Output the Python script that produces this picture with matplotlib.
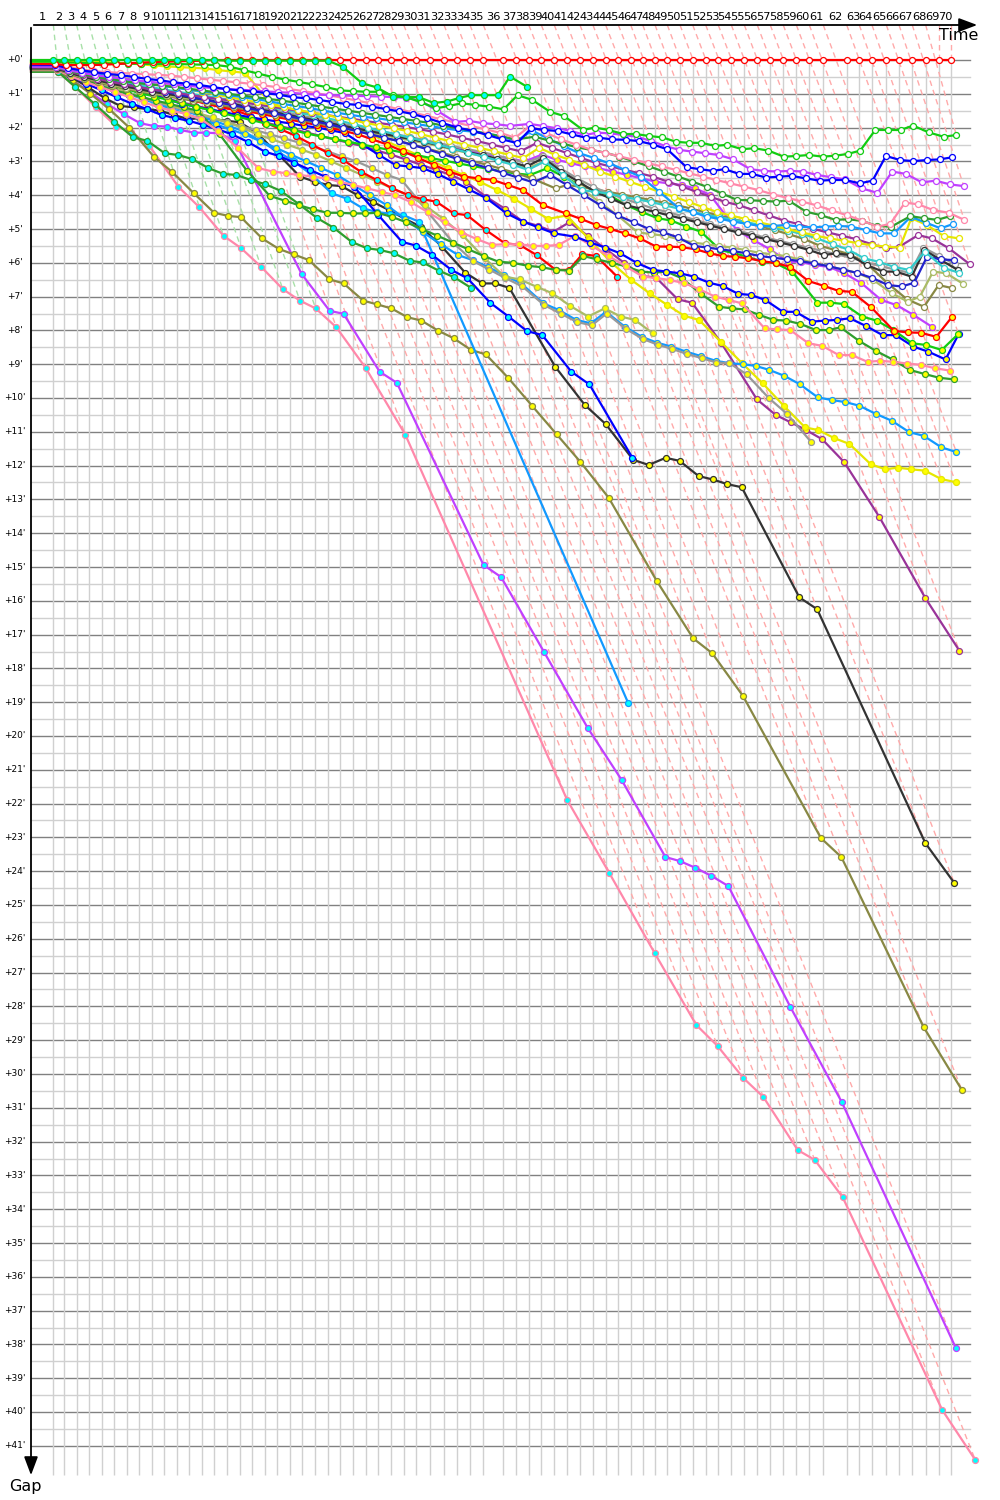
import matplotlib
matplotlib.use("Agg")
import matplotlib.pyplot as plt

# leader's elapsed time at the end of each lap, minutes
lead_time = [1.62, 2.41, 3.31, 4.22, 5.12, 6.04, 6.93, 7.85, 8.75, 9.66,
             10.56, 11.47, 12.37, 13.28, 14.22, 15.14, 16.04, 16.96, 17.85, 18.77,
             19.66, 20.58, 21.50, 22.39, 23.31, 24.25, 25.17, 26.09, 27.01, 27.92,
             28.91, 29.93, 30.87, 31.81, 32.78, 34.22, 35.14, 36.07, 36.98, 37.92,
             38.86, 39.78, 40.72, 41.64, 42.56, 43.46, 44.33, 45.22, 46.11, 47.03,
             47.95, 48.89, 49.80, 50.75, 51.69, 52.63, 53.57, 54.51, 55.46, 56.40,
             57.41, 59.11, 60.02, 60.94, 61.98, 62.90, 63.86, 64.83, 65.78, 66.69]
lap_labels = [str(i) for i in range(1, 71)]
gap_ticks = list(range(0, 42))

# gap to the leader after each lap, minutes (one list per car)
gap_red_w = [0.12, 0.15, 0.15, 0.15, 0.14, 0.12, 0.1, 0.08, 0.06, 0.05, 0.04, 0.03, 0.02] + [0.0] * 57
gap_green_c = [0.0] * 14 + [0.02] * 9 + [0.2, 0.69, 0.81, 1.09, 1.09, 1.1, 1.27, 1.23, 1.12, 1.04,
                                         1.04, 1.04, 0.49, 0.79]
gap_green_w = [0.05, 0.07, 0.08, 0.09, 0.1, 0.1, 0.11, 0.11, 0.12, 0.12, 0.12, 0.13, 0.14, 0.15,
               0.2, 0.3, 0.4, 0.5, 0.58, 0.65, 0.72, 0.8, 0.9,
               0.92, 0.94, 0.94, 1.04, 1.1, 1.25, 1.43, 1.36, 1.28, 1.33, 1.38, 1.46,
               1.04, 1.18, 1.53, 1.66, 2.07, 2.0, 2.07, 2.19, 2.19, 2.25, 2.29, 2.42, 2.45, 2.45, 2.54,
               2.51, 2.64, 2.61, 2.68, 2.86, 2.84, 2.81, 2.86, 2.83, 2.78, 2.68,
               2.07, 2.07, 2.07, 1.94, 2.14, 2.27, 2.22]
gap_blue_w = [0.15, 0.24, 0.3, 0.36, 0.41, 0.45, 0.5, 0.56, 0.6, 0.66, 0.7, 0.74, 0.8, 0.86, 0.9,
              0.93, 0.98, 1.03, 1.1, 1.13, 1.18, 1.24, 1.3, 1.33, 1.38, 1.45, 1.52, 1.6, 1.72, 1.86,
              2.0, 2.1, 2.22, 2.35, 2.46,
              2.02, 2.07, 2.1, 2.2, 2.3, 2.3, 2.35, 2.36, 2.4, 2.5, 2.64,
              3.17, 3.23, 3.28, 3.23, 3.37, 3.37, 3.48, 3.45, 3.43, 3.5, 3.57, 3.55, 3.55, 3.65, 3.57,
              2.84, 2.96, 2.99, 2.96, 2.94, 2.88]
gap_violet_w = [0.2, 0.3, 0.38, 0.45, 0.5, 0.55, 0.6, 0.64, 0.68, 0.72, 0.76, 0.8, 0.83, 0.86, 0.88,
                0.9, 0.93, 0.95, 0.97, 1.0, 1.02, 1.04, 1.05, 1.06, 1.07, 1.08, 1.1, 1.12, 1.2, 1.5,
                1.83, 1.8, 1.87, 1.9, 1.95, 1.89, 1.95, 2.02, 2.09, 2.22, 2.15, 2.17, 2.22, 2.27, 2.4, 2.55,
                2.66, 2.71, 2.76, 2.81, 2.94, 3.23, 3.28, 3.3, 3.28, 3.3, 3.4, 3.47, 3.53, 3.8, 3.93,
                3.3, 3.37, 3.62, 3.57, 3.68, 3.73]
gap_pink_w = [0.15, 0.22, 0.28, 0.33, 0.36, 0.38, 0.4, 0.42, 0.44, 0.46, 0.5, 0.54, 0.58, 0.62, 0.66,
              0.7, 0.75, 0.8, 0.86, 0.92, 0.98, 1.05, 1.12, 1.2, 1.28, 1.36, 1.45, 1.55, 1.65, 1.75,
              1.85, 1.95, 2.05, 2.15, 2.3,
              1.95, 2.15, 2.35, 2.5, 2.65, 2.75, 2.85, 2.95, 3.05, 3.15, 3.25, 3.35, 3.45, 3.55, 3.65,
              3.75, 3.85, 3.98, 4.08, 4.19, 4.3, 4.45, 4.59, 4.75, 4.93, 4.85,
              4.22, 4.27, 4.44, 4.52, 4.73]
gap_dkgreen_w = [0.2, 0.32, 0.42, 0.5, 0.56, 0.62, 0.68, 0.72, 0.76, 0.8, 0.85, 0.9, 0.95, 1.0, 1.05,
                 1.1, 1.15, 1.2, 1.26, 1.32, 1.38, 1.44, 1.5, 1.56, 1.62, 1.68, 1.74, 1.8, 1.86, 1.94,
                 2.02, 2.1, 2.18, 2.26, 2.35,
                 2.27, 2.38, 2.48, 2.58, 2.66, 2.74, 2.86, 3.0, 3.15, 3.3, 3.45, 3.6, 3.75, 3.95, 4.14,
                 4.15, 4.17, 4.19, 4.16, 4.49, 4.59, 4.73, 4.71, 4.76, 4.91, 4.93,
                 4.62, 4.68, 4.73, 4.62]
gap_dodger_w = [0.18, 0.28, 0.36, 0.42, 0.48, 0.55, 0.62, 0.7, 0.76, 0.82, 0.88, 0.93, 0.98, 1.04, 1.1,
                1.16, 1.22, 1.3, 1.36, 1.42, 1.5, 1.56, 1.62, 1.68, 1.72, 1.78, 1.84, 1.9, 1.96, 2.02,
                2.08, 2.12, 2.18, 2.25, 2.4,
                2.09, 2.32, 2.55, 2.76, 2.9, 3.06, 3.25, 3.45, 3.9, 4.39, 4.5, 4.64, 4.7, 4.78, 4.85,
                4.91, 4.91, 4.88, 4.93, 4.95, 4.93, 4.91, 4.93, 5.03, 5.13, 5.13,
                4.64, 4.81, 4.98, 4.85]
gap_yellow_w = [0.1, 0.2, 0.28, 0.36, 0.44, 0.52, 0.6, 0.66, 0.72, 0.8, 0.88, 0.95, 1.02, 1.1, 1.18,
                1.25, 1.32, 1.4, 1.48, 1.55, 1.62, 1.7, 1.78, 1.86, 1.94, 2.02, 2.1, 2.2, 2.3, 2.4,
                2.5, 2.6, 2.7, 2.8, 2.9,
                2.6, 2.8, 2.95, 3.1, 3.3, 3.45, 3.6, 3.75, 3.9, 4.05, 4.2, 4.35, 4.5, 4.6, 4.7,
                4.8, 4.9, 5.0, 5.1, 5.2, 5.28, 5.35, 5.42, 5.48, 5.52, 5.55,
                4.68, 4.88, 5.21, 5.28]
gap_purple_w = [0.22, 0.34, 0.45, 0.55, 0.64, 0.72, 0.8, 0.86, 0.92, 0.98, 1.04, 1.1, 1.15, 1.2, 1.26,
                1.32, 1.38, 1.44, 1.5, 1.56, 1.62, 1.68, 1.74, 1.8, 1.86, 1.92, 1.98, 2.05, 2.12, 2.2,
                2.3, 2.4, 2.5, 2.6, 2.7,
                2.45, 2.6, 2.75, 2.9, 3.05, 3.15, 3.25, 3.35, 3.45, 3.6, 3.75, 3.9, 4.05, 4.2, 4.3,
                4.45, 4.6, 4.75, 4.85, 5.0, 5.1, 5.2, 5.3, 5.45, 5.57, 5.52,
                5.18, 5.28, 5.57, 6.04]
gap_teal_w = [0.2, 0.3, 0.4, 0.48, 0.56, 0.64, 0.72, 0.8, 0.87, 0.94, 1.0, 1.06, 1.12, 1.18, 1.25,
              1.32, 1.4, 1.48, 1.56, 1.64, 1.72, 1.8, 1.9, 2.0, 2.1, 2.2, 2.3, 2.4, 2.5, 2.62,
              2.74, 2.86, 2.98, 3.1, 3.25,
              3.0, 3.4, 3.85, 3.9, 3.95, 4.05, 4.12, 4.2, 4.3, 4.4, 4.5, 4.58, 4.65, 4.72, 4.8,
              4.88, 4.96, 5.05, 5.15, 5.28, 5.45, 5.6, 5.87, 5.97, 6.12, 6.21,
              5.67, 6.16, 6.29]
gap_black_w = [0.25, 0.38, 0.5, 0.6, 0.7, 0.78, 0.86, 0.94, 1.0, 1.06, 1.12, 1.18, 1.24, 1.3, 1.38,
               1.46, 1.54, 1.62, 1.7, 1.78, 1.86, 1.94, 2.02, 2.1, 2.18, 2.26, 2.34, 2.42, 2.52, 2.62,
               2.72, 2.82, 2.92, 3.02, 3.15,
               2.9, 3.3, 3.6, 3.9, 4.1, 4.3, 4.4, 4.49, 4.6, 4.7, 4.8, 4.9, 5.0, 5.1, 5.2,
               5.3, 5.4, 5.5, 5.62, 5.77, 5.72, 5.77, 6.07, 6.26, 6.26, 6.41,
               5.62, 5.92, 6.21]
gap_grey_w = [0.22, 0.35, 0.46, 0.56, 0.65, 0.73, 0.8, 0.88, 0.95, 1.02, 1.08, 1.14, 1.2, 1.27, 1.34,
              1.41, 1.48, 1.56, 1.64, 1.72, 1.8, 1.88, 1.96, 2.04, 2.12, 2.2, 2.28, 2.36, 2.45, 2.54,
              2.63, 2.72, 2.82, 2.92, 3.05,
              2.85, 3.2, 3.5, 3.75, 3.95, 4.1, 4.25, 4.4, 4.5, 4.62, 4.74, 4.85, 4.95, 5.05, 5.15,
              5.25, 5.35, 5.45, 5.55, 5.65, 5.75, 5.85, 5.98, 6.1, 6.2, 6.3,
              5.55, 5.8, 6.05]
gap_khaki_w = [0.25, 0.4, 0.52, 0.63, 0.73, 0.82, 0.9, 0.97, 1.04, 1.1, 1.16, 1.22, 1.28, 1.35, 1.42,
               1.5, 1.58, 1.66, 1.74, 1.82, 1.9, 1.98, 2.06, 2.14, 2.22, 2.3, 2.38, 2.46, 2.55, 2.65,
               2.75, 2.85, 2.95, 3.05, 3.2,
               3.0, 3.4, 3.8, 4.2, 4.6, 5.1, 5.15, 5.2, 5.3, 5.4, 5.45, 5.5, 5.55, 5.62, 5.7,
               5.75, 5.8, 5.9, 6.0, 6.1, 6.2, 6.3, 6.5, 6.9, 7.15, 7.0,
               6.26, 6.31, 6.63]
gap_olive_w = [0.28, 0.42, 0.55, 0.66, 0.76, 0.85, 0.93, 1.0, 1.07, 1.14, 1.2, 1.26, 1.33, 1.4, 1.47,
               1.54, 1.62, 1.7, 1.78, 1.86, 1.94, 2.02, 2.1, 2.2, 2.3, 2.4, 2.5, 2.62, 2.74, 2.86,
               2.98, 3.1, 3.22, 3.35, 3.5,
               3.8, 3.7, 3.75, 3.82, 3.9, 3.98, 4.06, 4.14, 4.22, 4.3, 4.4, 4.5, 4.6, 4.7, 4.8,
               4.92, 5.04, 5.16, 5.3, 5.5, 5.62, 5.75, 6.0, 6.6, 7.08, 7.3,
               6.66, 6.75]
gap_navy_w = [0.18, 0.3, 0.4, 0.5, 0.6, 0.7, 0.78, 0.86, 0.94, 1.02, 1.1, 1.18, 1.26, 1.34, 1.42,
              1.5, 1.58, 1.66, 1.74, 1.82, 1.9, 2.0, 2.1, 2.2, 2.3, 2.4, 2.52, 2.64, 2.78, 2.92,
              3.06, 3.2, 3.34, 3.48, 3.62,
              3.4, 3.7, 4.0, 4.3, 4.6, 4.8, 5.0, 5.1, 5.25, 5.5, 5.55, 5.6, 5.65, 5.72, 5.8,
              5.85, 5.9, 5.95, 6.02, 6.1, 6.2, 6.3, 6.45, 6.66, 6.7, 6.59,
              5.82, 5.9, 5.92]
gap_red_y = [0.2, 0.3, 0.42, 0.52, 0.62, 0.72, 0.82, 0.92, 1.02, 1.1, 1.2, 1.28, 1.36, 1.44, 1.52,
             1.6, 1.68, 1.76, 1.84, 1.92, 2.0, 2.1, 2.2, 2.35, 2.5, 2.7, 2.9, 3.1, 3.3,
             3.45, 3.5, 3.55, 3.7, 3.85, 4.29, 4.54, 4.7, 4.88, 5.0, 5.13,
             5.28, 5.52, 5.52, 5.54, 5.6, 5.72, 5.8, 5.82, 5.87, 5.95, 6.01, 6.12, 6.54, 6.68, 6.83,
             6.86, 7.32, 8.01, 8.06, 8.07, 8.19, 7.61]
gap_violet_y = [0.15, 0.25, 0.35, 0.45, 0.55, 0.65, 0.75, 0.84, 0.92, 1.0, 1.08, 1.16, 1.24, 1.32, 1.4,
                1.48, 1.56, 1.64, 1.72, 1.8, 1.88, 1.96, 2.04, 2.12, 2.2, 2.28, 2.36, 2.44, 2.52, 2.6,
                2.68, 2.76, 2.84, 2.92, 3.0,
                2.8, 2.95, 3.05, 3.15, 3.2, 3.3, 3.4, 3.5, 3.6, 3.65, 3.7, 3.8,
                3.99, 5.03, 5.33, 5.6, 5.97, 5.97, 6.07, 6.12, 6.31, 6.6, 7.1, 7.25, 7.54, 7.9]
gap_green_y = [0.22, 0.36, 0.5, 0.62, 0.74, 0.86, 0.98, 1.08, 1.18, 1.28, 1.38, 1.48, 1.58, 1.68, 1.78,
               1.88, 1.98, 2.08, 2.18, 2.26, 2.34, 2.42, 2.5, 2.58, 2.66, 2.74, 2.82, 2.9, 2.98, 3.06,
               3.14, 3.22, 3.3, 3.36, 3.4,
               3.2, 3.45, 3.7, 3.85, 4.0, 4.3, 4.5,
               4.68, 4.75, 4.93, 5.08, 5.62, 5.72, 5.82, 5.97, 6.01, 6.26, 7.18, 7.18, 7.22, 7.59,
               7.71, 7.99, 8.38, 8.43, 8.58, 8.1]
gap_blue_y = [0.2, 0.33, 0.45, 0.57, 0.7, 0.82, 0.94, 1.05, 1.16, 1.3, 1.38, 1.46, 1.54, 1.62, 1.7,
              1.76, 1.82, 1.88, 1.95, 2.0, 2.08, 2.16, 2.5, 2.8,
              3.11, 3.15, 3.2, 3.37, 3.6, 3.83, 4.09, 4.54, 4.78, 4.95, 5.13, 5.23, 5.4, 5.55, 5.72,
              6.01, 6.21, 6.26, 6.31, 6.41, 6.59, 6.69, 6.92, 6.95, 7.1, 7.45, 7.45, 7.74, 7.71, 7.69,
              7.64, 7.87, 8.14, 8.14, 8.48, 8.63, 8.86, 8.11]
gap_pink_y = [0.3, 0.48, 0.65, 0.8, 0.95, 1.1, 1.25, 1.4, 1.5, 1.6, 1.75, 2.1, 2.6, 3.2,
              3.3, 3.35, 3.4, 3.45, 3.5, 3.6, 3.7, 3.8, 3.9, 4.0, 4.2, 4.5, 4.8, 5.1, 5.3,
              5.47, 5.45, 5.45, 5.5, 5.5, 5.47, 5.2, 5.5, 5.8, 6.1, 6.41, 6.45, 6.51, 6.6,
              6.78, 7.0, 7.1, 7.2, 7.94, 7.97, 7.99, 8.38, 8.46, 8.73, 8.73, 8.93, 8.9, 8.93, 8.98,
              9.02, 9.12, 9.19]
gap_dkgreen_y = [0.25, 0.4, 0.6, 0.75, 0.9, 1.0, 1.1, 1.2, 1.3, 1.4, 1.5, 2.2, 3.27, 4.02,
                 4.16, 4.3, 4.42, 4.52, 4.52, 4.54, 4.54, 4.52, 4.64, 4.8, 5.0, 5.2, 5.4, 5.6, 5.8,
                 5.97, 6.0, 6.09, 6.13, 6.21, 6.23, 5.8, 5.9, 6.0, 6.1, 6.26,
                 6.29, 6.26, 6.46, 6.92, 7.3, 7.35, 7.38, 7.54, 7.69, 7.71, 7.81, 7.99, 7.99, 7.91,
                 8.31, 8.61, 8.86, 9.17, 9.29, 9.4, 9.45]
gap_dodger_y = [0.25, 0.4, 0.55, 0.7, 0.85, 1.0, 1.15, 1.3, 1.45, 1.6, 1.75, 1.9, 2.05, 2.2, 2.4,
                2.6, 2.8, 3.0, 3.2, 3.4, 3.7, 4.0, 4.3, 4.7, 5.1, 5.45,
                5.77, 5.92, 6.13, 6.36, 6.61, 7.2, 7.4, 7.69, 7.79, 7.45, 7.89, 8.19, 8.36, 8.48,
                8.63, 8.76, 8.9, 8.97, 9.0, 9.05, 9.17, 9.34, 9.59, 9.98, 10.06, 10.12, 10.23,
                10.47, 10.67, 11.01, 11.12, 11.46, 11.6]
gap_grey_y = [0.25, 0.4, 0.55, 0.7, 0.85, 1.0, 1.12, 1.24, 1.36, 1.48, 1.6, 1.72, 1.84, 1.96, 2.08,
              2.2, 2.32, 2.44, 2.56, 2.7, 2.85, 3.0, 3.2, 3.4,
              3.55, 4.49, 5.4, 5.95, 6.2, 6.45, 6.7, 7.25, 7.5, 7.75, 7.85, 7.5, 7.95, 8.25, 8.42,
              8.55, 8.7, 8.82, 8.95, 8.97, 9.3, 10.0, 10.48, 11.29]
gap_khaki_y = [0.2, 0.35, 0.5, 0.65, 0.8, 0.95, 1.1, 1.22, 1.34, 1.46, 1.58, 1.7, 1.85, 2.0, 2.2,
               2.35, 2.5, 2.65, 2.8, 3.0, 3.2, 3.4, 3.6, 3.8, 4.0, 4.3, 4.7,
               5.18, 5.87, 6.41, 6.49, 6.71, 6.9, 7.28, 7.59, 7.35, 7.59, 7.69, 8.09]
gap_red_c = [0.2, 0.32, 0.42, 0.52, 0.62, 0.72, 0.82, 0.92, 1.02, 1.1, 1.2, 1.3, 1.4, 1.48, 1.65,
             1.85, 2.05, 2.25, 2.5, 2.75, 2.96, 3.3, 3.55, 3.8,
             3.99, 4.12, 4.19, 4.54, 4.59, 5.03, 5.42, 5.47, 5.77, 6.21, 6.21, 5.74, 5.8, 6.41]
gap_blue_c = [0.25, 0.45, 0.7, 0.9, 1.1, 1.3, 1.45, 1.63, 1.72, 1.8, 1.92, 2.05, 2.2, 2.42,
              2.71, 2.84, 3.04, 3.25, 3.45, 3.6,
              3.75, 4.59, 5.38, 5.49, 5.77, 6.21, 6.46, 7.18, 7.59, 8.02, 8.14, 9.22, 9.6, 11.77]
gap_dodger_c = [0.25, 0.38, 0.5, 0.65, 0.8, 0.95, 1.1, 1.24, 1.38, 1.5, 1.65, 1.8, 1.95, 2.1, 2.4,
                2.7, 3.0, 3.4, 3.94, 4.1, 4.39, 4.5, 4.55, 4.59, 4.78, 19.02]
gap_dkgreen_c = [0.35, 0.8, 1.3, 1.83, 2.29, 2.39, 2.76, 2.81, 2.93, 3.2, 3.37, 3.4, 3.55, 3.67, 3.87,
                 4.26, 4.67, 4.96, 5.38, 5.57, 5.62, 5.72, 5.94, 5.99, 6.23, 6.43, 6.75]
gap_black_y = [0.25, 0.5, 0.8, 1.13, 1.36, 1.4, 1.45, 1.5, 1.63, 1.75, 1.72, 1.75, 1.8, 1.84, 2.16,
               2.8, 3.45, 3.6, 3.7, 3.73, 4.0, 4.2, 4.44, 4.7, 4.93, 5.52, 6.29, 6.61, 6.61, 6.74,
               9.07, 10.21, 10.77, 11.83, 11.98, 11.77, 11.86, 12.31, 12.41, 12.55, 12.64, 15.9,
               16.25, 23.17, 24.35]
gap_olive_y = [0.3, 0.6, 1.0, 1.45, 2.0, 2.86, 3.32, 3.94, 4.52, 4.61, 4.65, 5.28, 5.59, 5.75, 5.92,
               6.49, 6.61, 7.12, 7.23, 7.35, 7.61, 7.71, 8.01, 8.23, 8.58, 8.71, 9.4, 10.24, 11.07,
               11.89, 12.95, 15.41, 17.11, 17.55, 18.82, 23.02, 23.58, 28.61, 30.47]
gap_purple_y = [0.22, 0.35, 0.48, 0.6, 0.72, 0.84, 0.95, 1.05, 1.15, 1.25, 1.35, 1.45, 1.55, 1.65,
                1.75, 1.85, 1.95, 2.05, 2.15, 2.25, 2.35, 2.45, 2.55, 2.68, 2.8, 2.95, 3.1, 3.25, 3.4,
                3.6, 4.04, 4.4, 4.78, 4.9, 5.08, 4.8, 5.2, 5.6, 6.0,
                6.39, 6.44, 7.08, 7.18, 8.36, 10.04, 10.5, 10.72, 10.95, 11.22, 11.9, 13.51, 15.92,
                17.48]
gap_yellow_y = [0.05, 0.07, 0.06, 0.05, 0.06, 0.08, 0.1, 0.13, 0.16, 0.19, 0.21, 0.23, 0.25, 0.3,
                0.34, 0.38, 1.27, 1.4, 1.5, 1.6, 1.75, 1.9, 2.05, 2.2, 2.4, 2.6, 2.8, 3.0, 3.2, 3.4,
                3.6, 3.85, 4.1, 4.4, 4.7, 4.6, 5.3, 6.0,
                6.5, 6.9, 7.25, 7.57, 7.69, 8.33, 8.97, 9.57, 10.24, 10.87, 10.95, 11.19, 11.36,
                11.96, 12.11, 12.06, 12.11, 12.15, 12.4, 12.49]
gap_violet_c = [0.3, 0.6, 0.95, 1.3, 1.6, 1.87, 1.95, 1.97, 2.07, 2.15, 2.15, 2.17, 2.39,
                6.33, 7.42, 7.51, 9.22, 9.55, 14.94, 15.3, 17.51, 19.76, 21.3, 23.58, 23.7, 23.9,
                24.14, 24.44, 28.02, 30.83, 38.1]
gap_pink_c = [0.35, 0.8, 1.4, 1.97, 2.12, 2.54, 3.75, 4.36, 5.2, 5.57, 6.12, 6.78, 7.12, 7.35, 7.91,
              9.11, 11.09, 21.89, 24.05, 26.42, 28.55, 29.17, 30.12, 30.68, 32.25, 32.54, 33.64,
              39.94, 41.42]

RED, GREEN, BLUE, VIOLET = "#ff0000", "#11cc11", "#0000ff", "#c040ff"
PINK, DKGREEN, DODGER, YELLOW = "#ff88aa", "#2e9e2e", "#1199ff", "#e6e600"
PURPLE, TEAL, BLACK, GREY = "#993399", "#33cccc", "#333333", "#999999"
KHAKI, OLIVE, NAVY = "#aabb66", "#888844", "#2222cc"
W, Y, C = "#ffffff", "#ffff00", "#00ffff"

# drawn in this order, last one on top
cars = [
    (gap_pink_c, PINK, C), (gap_violet_c, VIOLET, C), (gap_olive_y, OLIVE, Y),
    (gap_black_y, BLACK, Y), (gap_purple_y, PURPLE, Y), (gap_dodger_c, DODGER, C),
    (gap_yellow_y, YELLOW, Y), (gap_dodger_y, DODGER, Y), (gap_grey_y, GREY, Y),
    (gap_blue_c, BLUE, C), (gap_dkgreen_c, DKGREEN, C), (gap_khaki_y, KHAKI, Y),
    (gap_red_c, RED, C), (gap_dkgreen_y, DKGREEN, Y), (gap_pink_y, PINK, Y),
    (gap_blue_y, BLUE, Y), (gap_green_y, GREEN, Y), (gap_violet_y, VIOLET, Y),
    (gap_red_y, RED, Y), (gap_olive_w, OLIVE, W), (gap_khaki_w, KHAKI, W),
    (gap_grey_w, GREY, W), (gap_black_w, BLACK, W), (gap_navy_w, NAVY, W),
    (gap_teal_w, TEAL, W), (gap_purple_w, PURPLE, W), (gap_yellow_w, YELLOW, W),
    (gap_dodger_w, DODGER, W), (gap_dkgreen_w, DKGREEN, W), (gap_pink_w, PINK, W),
    (gap_violet_w, VIOLET, W), (gap_blue_w, BLUE, W), (gap_green_w, GREEN, W),
    (gap_red_w, RED, W), (gap_green_c, GREEN, C),
]

# pixel layout of the 1000x1500 canvas
SX, SY = 13.8, 33.8          # px per minute on time / gap axis
X0, Y0 = 31, 60              # px of time 0 and gap 0


def gx(px):
    return (px - X0) / SX


def gy(py):
    return (py - Y0) / SY


fig = plt.figure(figsize=(10, 15), dpi=100)
ax = fig.add_axes([0, 0, 1, 1])
ax.set_xlim(gx(0), gx(1000))
ax.set_ylim(gy(1500), gy(0))
ax.axis("off")

top, bottom, right = gy(25), gy(1475), gx(970)

# grid
for m in range(0, 42):
    ax.plot([0, right], [m, m], color="#808080", lw=1.0, zorder=1)
    if m < 41:
        ax.plot([0, right], [m + 0.5, m + 0.5], color="#d0d0d0", lw=1.0, zorder=1)
ax.vlines(lead_time, 0, bottom, color="#d0d0d0", lw=1.0, zorder=1)

# lap lines: from the top through every car on that lap
for k, t in enumerate(lead_time):
    on_lap = [g[k] for g, _, _ in cars if len(g) > k]
    gmax = max(on_lap)
    col = "#a8e0a8" if k < 14 else "#ffaaaa"
    ax.plot([t, t + gmax], [top, gmax], color=col, lw=1.0, ls=(0, (4, 3)), zorder=2)

# cars
for z, (gaps, col, fill) in enumerate(cars):
    xs = [lead_time[i] + g for i, g in enumerate(gaps)]
    ax.plot([0] + xs, [gaps[0]] + gaps, color=col, lw=1.6, zorder=3 + z * 0.01,
            solid_joinstyle="round")
    ax.plot(xs, gaps, ls="none", marker="o", ms=4.3, mfc=fill, mec=col, mew=0.9,
            zorder=3 + z * 0.01 + 0.005)

# axes with arrows
ax.annotate("", xy=(gx(980), top), xytext=(0, top),
            arrowprops=dict(arrowstyle="-|>,head_length=0.8,head_width=0.3",
                            color="black", lw=1.3, mutation_scale=14), zorder=10)
ax.annotate("", xy=(0, gy(1478)), xytext=(0, top),
            arrowprops=dict(arrowstyle="-|>,head_length=0.8,head_width=0.3",
                            color="black", lw=1.3, mutation_scale=14), zorder=10)
ax.text(gx(978), gy(36), "Time", ha="right", va="center", fontsize=11.5, zorder=10)
ax.text(gx(25), gy(1486), "Gap", ha="center", va="center", fontsize=11.5, zorder=10)

# labels
prev = 0.0
for t, lab in zip(lead_time, lap_labels):
    ax.text((prev + t) / 2, gy(17), lab, ha="center", va="center", fontsize=8.2, zorder=10)
    prev = t
for m in gap_ticks:
    ax.text(gx(15), m, f"+{m}'", ha="center", va="center", fontsize=6.5, zorder=10)

fig.savefig("out.png", dpi=100)
